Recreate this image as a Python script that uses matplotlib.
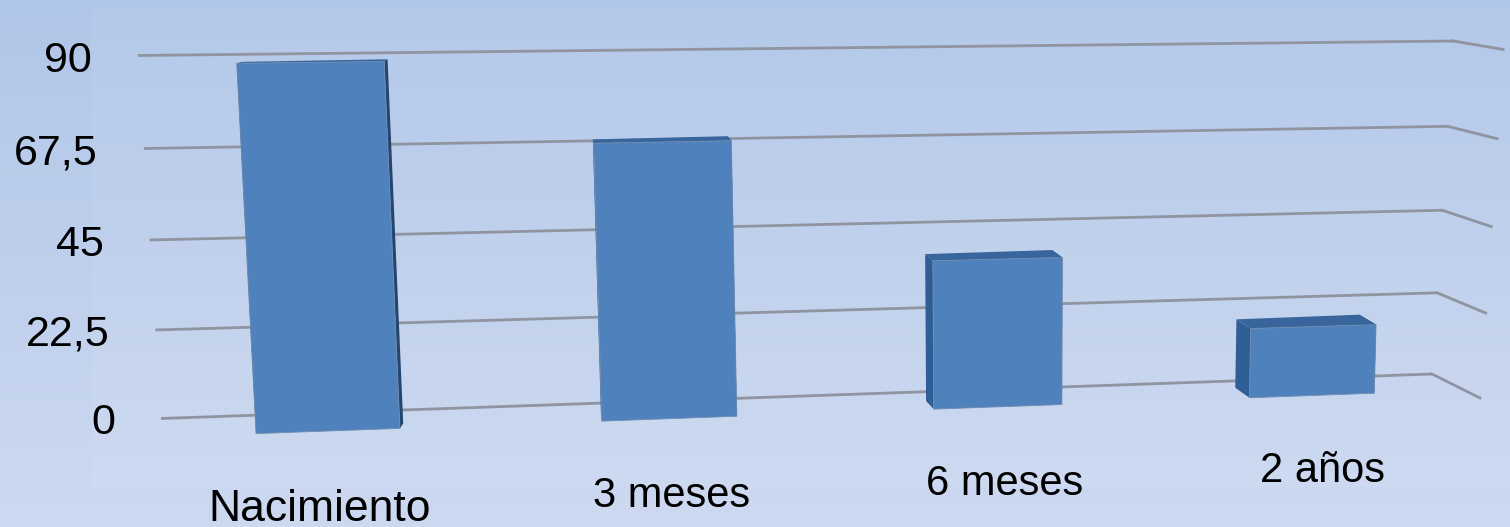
from matplotlib import pyplot as plt
from matplotlib.patches import Rectangle
from matplotlib.transforms import Transform
import numpy as np

categories = ['Nacimiento', '3 meses', '6 meses', '2 años']
values = [88, 68, 37.5, 18]
ticks = [0, 22.5, 45, 67.5, 90]
tick_labels = ['0', '22,5', '45', '67,5', '90']

# layout, in pixels of the 1510x527 picture
W, H = 1510, 527
bar_x = [-0.019, 1.02, 2.02, 2.976]
bar_w = [0.438, 0.411, 0.39, 0.38]
label_xy = [(320, 521), (672, 507), (1005, 495), (1323, 482)]
label_size = [32, 30, 30, 30]
X_MIN, X_MAX = -0.5, 3.5
V_MAX = 90
BEND = -0.033

FONT = 'Liberation Sans'
BAR = '#4f81bd'
BAR_TOP = '#38659b'
BAR_SIDE = '#2f5d95'
BAR_DARK = '#24456e'
GRID = '#8f94a0'


def bent(value):
    # the value axis is not quite linear in the picture
    t = np.asarray(value, float) / V_MAX
    return t + BEND * t * (1 - t)


class PlaneTransform(Transform):
    '''
    Maps (category position, value) onto a tilted plane of the fake 3D chart.

    Args:
        bl, br, tl, tr: pixel corners for value 0 (bl, br) and V_MAX (tl, tr)
    '''
    input_dims = 2
    output_dims = 2

    def __init__(self, bl, br, tl, tr):
        super().__init__()
        self.bl, self.br = np.array(bl, float), np.array(br, float)
        self.tl, self.tr = np.array(tl, float), np.array(tr, float)

    def transform_non_affine(self, points):
        points = np.asarray(points, float)
        s = ((points[:, 0] - X_MIN) / (X_MAX - X_MIN))[:, None]
        t = bent(points[:, 1])[:, None]
        bottom = self.bl + (self.br - self.bl) * s
        top = self.tl + (self.tr - self.tl) * s
        return bottom + (top - bottom) * t


wall = PlaneTransform((161, 418.5), (1432, 374), (138, 55.5), (1453, 41))
front = PlaneTransform((170, 436.7), (1484, 389.3), (148, 55.7), (1496, 39.3))
back = PlaneTransform((178, 433), (1465, 378), (156, 54.7), (1477, 32))
tip_bottom, tip_top = np.array([1480, 398]), np.array([1503, 49.4])

fig = plt.figure(figsize=(W / 100, H / 100), dpi=100)
ax = fig.add_axes([0, 0, 1, 1])

# background gradient and the slightly lighter chart panel
top_c = np.array([0xb0, 0xc6, 0xe8]) / 255
bottom_c = np.array([0xcd, 0xd9, 0xf1]) / 255
steps = np.linspace(0, 1, 256)[:, None, None]
ax.imshow(top_c[None, None, :] + (bottom_c - top_c)[None, None, :] * steps,
          extent=[0, W, H, 0], aspect='auto', zorder=0)
ax.add_patch(Rectangle((91, 8.5), W - 91, 478, fc='white', ec='none', alpha=0.05,
                       zorder=1))
ax.set_xlim(0, W)
ax.set_ylim(H, 0)
ax.axis('off')

# grid lines on the back wall, with the short bit turning forward at the right
for tick, label in zip(ticks, tick_labels):
    ax.plot([X_MIN, X_MAX], [tick, tick], color=GRID, lw=2, zorder=2,
            solid_capstyle='butt', transform=wall + ax.transData)
    corner = wall.transform(np.array([[X_MAX, tick]]))[0]
    tip = tip_bottom + (tip_top - tip_bottom) * bent(tick)
    ax.plot([corner[0], tip[0]], [corner[1], tip[1]], color=GRID, lw=2, zorder=2)
    start = wall.transform(np.array([[X_MIN, tick]]))[0]
    ax.text(start[0] - 46, start[1] + 16, label, ha='right', va='baseline',
            fontsize=31, family=FONT, color='black', zorder=5)

# sides and top of each bar, behind its front face
for x, w, v in zip(bar_x, bar_w, values):
    xl, xr = x - w / 2, x + w / 2
    f = front.transform(np.array([[xl, 0], [xr, 0], [xr, v], [xl, v]]))
    b = back.transform(np.array([[xl, 0], [xr, 0], [xr, v], [xl, v]]))
    ax.fill([f[0, 0], f[3, 0], b[3, 0], b[0, 0]], [f[0, 1], f[3, 1], b[3, 1], b[0, 1]],
            color=BAR_SIDE, lw=0, zorder=3)
    ax.fill([f[1, 0], f[2, 0], b[2, 0], b[1, 0]], [f[1, 1], f[2, 1], b[2, 1], b[1, 1]],
            color=BAR_DARK, lw=0, zorder=3)
    ax.fill([f[3, 0], f[2, 0], b[2, 0], b[3, 0]], [f[3, 1], f[2, 1], b[2, 1], b[3, 1]],
            color=BAR_TOP, lw=0, zorder=3)

ax.bar(bar_x, values, bar_w, color=BAR, edgecolor='#6f8bb0', linewidth=0.6, zorder=4,
       transform=front + ax.transData)

for name, (x, y), size in zip(categories, label_xy, label_size):
    ax.text(x, y, name, ha='center', va='baseline', fontsize=size, family=FONT,
            color='black', zorder=5)

fig.savefig('out.png', dpi=100)
